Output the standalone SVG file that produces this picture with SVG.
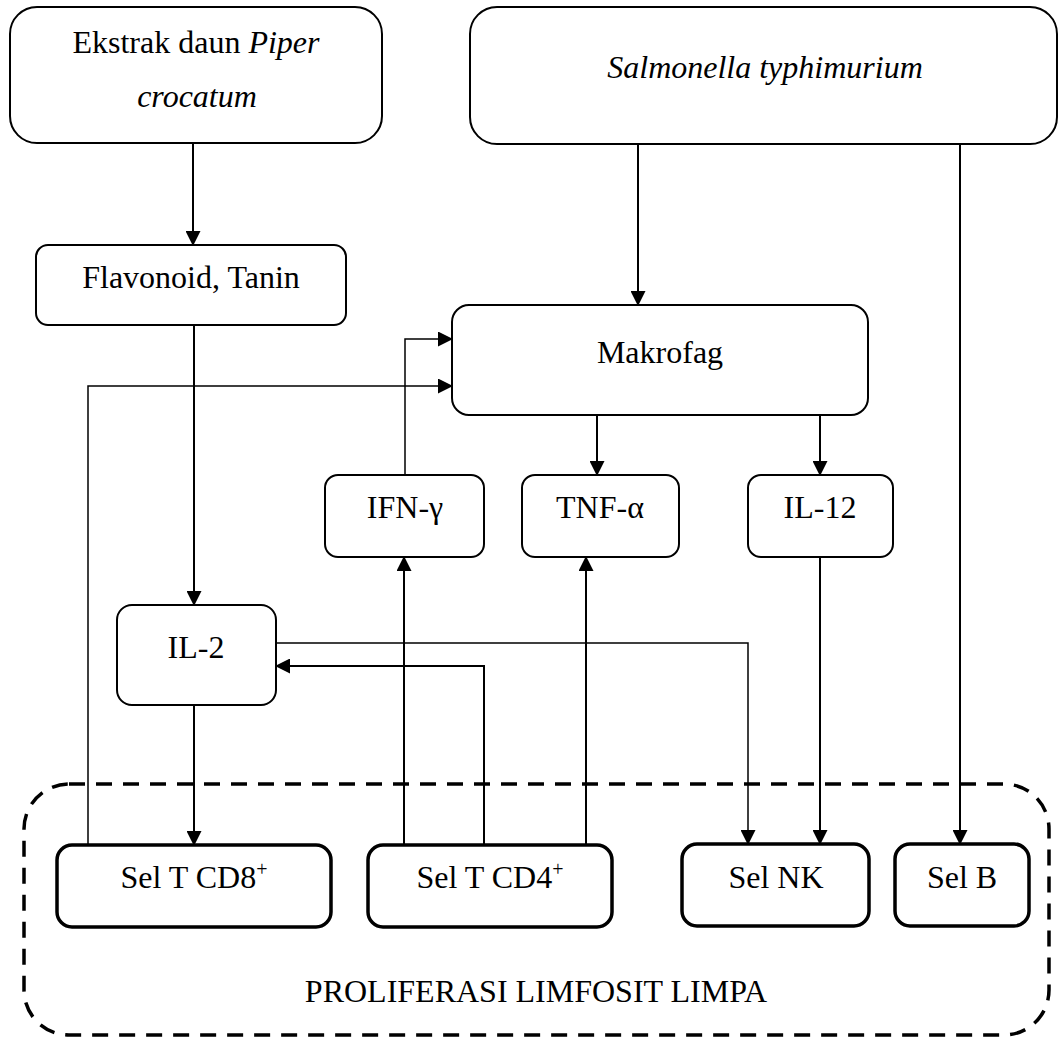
<svg xmlns="http://www.w3.org/2000/svg" width="1060" height="1038" viewBox="0 0 1060 1038">
<style>
.box{fill:#fff;stroke:#000;stroke-width:2}
.bold{fill:#fff;stroke:#000;stroke-width:3.5}
.t{font-family:"Liberation Serif","Times New Roman",serif;font-size:32px;fill:#000;text-anchor:middle}
.i{font-style:italic}
.ln{fill:none;stroke:#000;stroke-width:2}
.thin{fill:none;stroke:#000;stroke-width:1.5}
.dash{fill:none;stroke:#000;stroke-width:3.5;stroke-dasharray:16 11}
</style>
<defs>
<marker id="arr" markerUnits="userSpaceOnUse" markerWidth="15" markerHeight="15" refX="14" refY="7.5" orient="auto">
<path d="M0,0 L15,7.5 L0,15 z" fill="#000"/>
</marker>
</defs>
<rect class="dash" x="24" y="784" width="1025" height="251" rx="45" ry="45"/>
<g id="ekstrak"><rect class="box" x="10" y="7" width="372" height="136" rx="27"/>
<text class="t" x="196" y="53">Ekstrak daun <tspan class="i">Piper</tspan></text>
<text class="t i" x="197" y="107">crocatum</text></g>
<g id="salmonella"><rect class="box" x="470" y="7" width="587" height="137" rx="27"/>
<text class="t i" x="765" y="78">Salmonella typhimurium</text></g>
<g id="flavonoid"><rect class="box" x="36" y="245" width="310" height="80" rx="12"/>
<text class="t" x="191" y="288">Flavonoid, Tanin</text></g>
<g id="makrofag"><rect class="box" x="452" y="305" width="416" height="110" rx="17"/>
<text class="t" x="660" y="363">Makrofag</text></g>
<g id="ifn"><rect class="box" x="325" y="475" width="159" height="82" rx="13"/>
<text class="t" x="405" y="518">IFN-γ</text></g>
<g id="tnf"><rect class="box" x="522" y="475" width="157" height="82" rx="13"/>
<text class="t" x="600" y="518">TNF-α</text></g>
<g id="il12"><rect class="box" x="748" y="475" width="145" height="82" rx="13"/>
<text class="t" x="820" y="518">IL-12</text></g>
<g id="il2"><rect class="box" x="117" y="605" width="159" height="100" rx="15"/>
<text class="t" x="196" y="658">IL-2</text></g>
<g id="cd8"><rect class="bold" x="57" y="845" width="274" height="82" rx="15"/>
<text class="t" x="194" y="888">Sel T CD8<tspan dy="-12" font-size="20">+</tspan></text></g>
<g id="cd4"><rect class="bold" x="368" y="845" width="244" height="82" rx="15"/>
<text class="t" x="490" y="888">Sel T CD4<tspan dy="-12" font-size="20">+</tspan></text></g>
<g id="nk"><rect class="bold" x="682" y="844" width="187" height="82" rx="15"/>
<text class="t" x="776" y="888">Sel NK</text></g>
<g id="selb"><rect class="bold" x="895" y="844" width="134" height="82" rx="15"/>
<text class="t" x="962" y="888">Sel B</text></g>
<text class="t" x="536" y="1002">PROLIFERASI LIMFOSIT LIMPA</text>
<g id="connectors">
<path class="ln" d="M193,143 V245" marker-end="url(#arr)"/>
<path class="ln" d="M638,144 V305" marker-end="url(#arr)"/>
<path class="ln" d="M960,144 V844" marker-end="url(#arr)"/>
<path class="ln" d="M194,325 V605" marker-end="url(#arr)"/>
<path class="thin" d="M88,845 V386 H452" marker-end="url(#arr)"/>
<path class="thin" d="M405,475 V339 H452" marker-end="url(#arr)"/>
<path class="ln" d="M597,415 V475" marker-end="url(#arr)"/>
<path class="ln" d="M820,415 V475" marker-end="url(#arr)"/>
<path class="ln" d="M404,845 V557" marker-end="url(#arr)"/>
<path class="ln" d="M586,845 V557" marker-end="url(#arr)"/>
<path class="ln" d="M484,845 V666 H276" marker-end="url(#arr)"/>
<path class="thin" d="M276,643 H748 V844" marker-end="url(#arr)"/>
<path class="ln" d="M820,557 V844" marker-end="url(#arr)"/>
<path class="ln" d="M194,705 V845" marker-end="url(#arr)"/>
</g>
</svg>
